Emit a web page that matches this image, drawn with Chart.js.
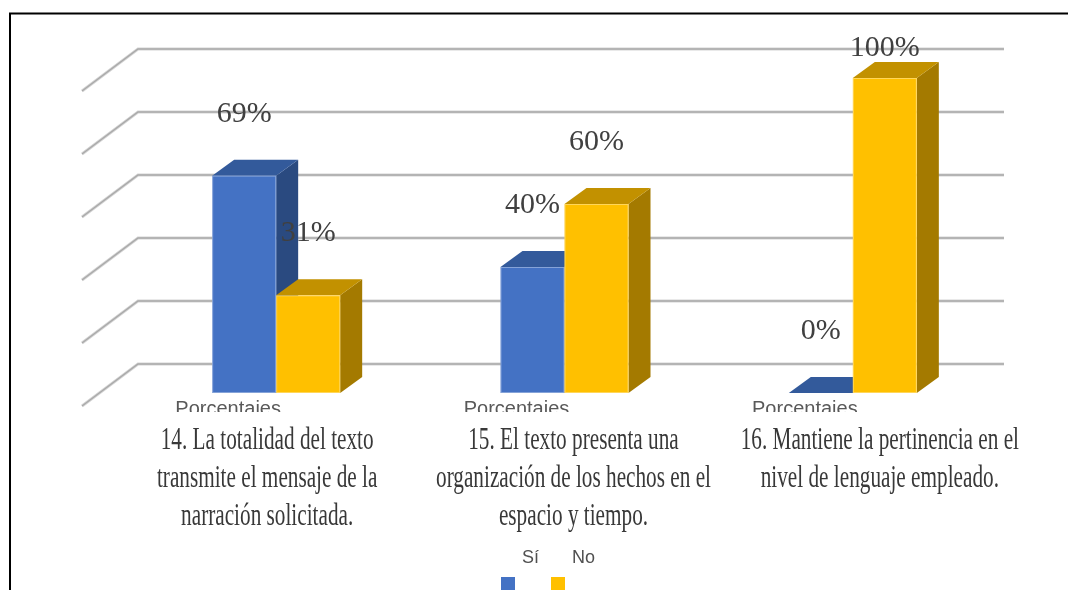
<!DOCTYPE html>
<html>
<head>
<meta charset="utf-8">
<script src="https://cdn.jsdelivr.net/npm/chart.js@4.4.1/dist/chart.umd.min.js"></script>
<style>
  body { margin: 0; background: #fff; }
  #wrap { width: 1068px; height: 590px; }
</style>
</head>
<body>
<div id="wrap"><canvas id="myChart" width="1068" height="590"></canvas></div>
<script>
// data
var categories = ['Porcentajes', 'Porcentajes', 'Porcentajes'];
var questions = [
  ['14. La totalidad del texto', 'transmite el mensaje de la', 'narración solicitada.'],
  ['15. El texto presenta una', 'organización de los hechos en el', 'espacio y tiempo.'],
  ['16. Mantiene la pertinencia en el', 'nivel de lenguaje empleado.']
];
var siValues = [69, 40, 0];
var noValues = [31, 60, 100];
var gridValues = [0, 20, 40, 60, 80, 100];

// face colours for the fake 3d boxes
var faces = [
  { front: '#4472C4', top: '#335A9B', side: '#2A4A80' },
  { front: '#FFC000', top: '#C29100', side: '#A47A00' }
];

var DX = 22, DY = 16;          // bar depth
var WALL_DX = 6, WALL_DY = 29; // back wall offset from the front faces

var box3d = {
  id: 'box3d',
  beforeDatasetsDraw: function(chart) {
    var ctx = chart.ctx, a = chart.chartArea, y = chart.scales.y;
    ctx.save();
    gridValues.forEach(function(v) {
      var py = y.getPixelForValue(v) - WALL_DY;
      var x0 = a.left + WALL_DX, x1 = a.right + 7;
      ctx.beginPath();
      ctx.moveTo(x0 - 56, py + 42);
      ctx.lineTo(x0, py);
      ctx.lineTo(x1, py);
      ctx.lineWidth = 3;
      ctx.strokeStyle = '#D4D4D4';
      ctx.stroke();
      ctx.lineWidth = 1.3;
      ctx.strokeStyle = '#A9A9A9';
      ctx.stroke();
    });
    ctx.restore();

    // boxes, first dataset first so the second one hides its side
    chart.data.datasets.forEach(function(ds, i) {
      var meta = chart.getDatasetMeta(i);
      meta.data.forEach(function(bar) {
        var l = bar.x - bar.width / 2, r = bar.x + bar.width / 2;
        var t = bar.y, b = bar.base;
        var c = faces[i];
        ctx.fillStyle = c.side;
        ctx.beginPath();
        ctx.moveTo(r, t); ctx.lineTo(r + DX, t - DY);
        ctx.lineTo(r + DX, b - DY); ctx.lineTo(r, b); ctx.closePath();
        ctx.fill();
        ctx.fillStyle = c.top;
        ctx.beginPath();
        ctx.moveTo(l, t); ctx.lineTo(l + DX, t - DY);
        ctx.lineTo(r + DX, t - DY); ctx.lineTo(r, t); ctx.closePath();
        ctx.fill();
        if (b - t > 0.5) {
          ctx.fillStyle = c.front;
          ctx.fillRect(l, t, r - l, b - t);
          ctx.strokeStyle = 'rgba(255,255,255,0.35)';
          ctx.lineWidth = 1;
          ctx.strokeRect(l + 0.5, t + 0.5, r - l - 1, b - t - 1);
        }
      });
    });
    return false;
  },
  afterDraw: function(chart) {
    var ctx = chart.ctx, xs = chart.scales.x;
    ctx.save();

    // value labels
    ctx.fillStyle = '#404040';
    ctx.font = '30px "Liberation Serif", "Times New Roman", serif';
    ctx.textAlign = 'center';
    ctx.textBaseline = 'middle';
    chart.data.datasets.forEach(function(ds, i) {
      chart.getDatasetMeta(i).data.forEach(function(bar, j) {
        var ly = Math.max(bar.y - 62, 48);
        ctx.fillText(ds.data[j] + '%', bar.x, ly);
      });
    });

    // question texts, pasted over the tick labels
    ctx.font = '31px "Liberation Serif", "Times New Roman", serif';
    questions.forEach(function(lines, j) {
      var cx = xs.getPixelForValue(j) - 9 + 18 * j;
      ctx.fillStyle = '#ffffff';
      ctx.fillRect(cx - 140, 412, 280, 38 * lines.length + 8);
      ctx.fillStyle = '#383838';
      lines.forEach(function(line, k) {
        ctx.save();
        ctx.translate(cx, 441 + 38 * k);
        ctx.scale(0.685, 1);
        ctx.fillText(line, 0, 0);
        ctx.restore();
      });
    });

    // legend: text above the colour squares
    ctx.font = '18px "Liberation Sans", Arial, sans-serif';
    ctx.textAlign = 'left';
    var names = chart.data.datasets.map(function(d) { return d.label; });
    var tx = [522, 572];
    names.forEach(function(n, i) {
      ctx.fillStyle = '#505050';
      ctx.fillText(n, tx[i], 558);
      ctx.fillStyle = faces[i].front;
      ctx.fillRect(tx[i] - 21, 577, 14, 14);
    });

    // frame
    ctx.strokeStyle = '#000';
    ctx.lineWidth = 2;
    ctx.beginPath();
    ctx.moveTo(10, 700); ctx.lineTo(10, 13.5); ctx.lineTo(1100, 13.5);
    ctx.stroke();
    ctx.restore();
  }
};

var ctx = document.getElementById('myChart').getContext('2d');
var myChart = new Chart(ctx, {
  type: 'bar',
  data: {
    labels: categories,
    datasets: [
      { label: 'Sí', data: siValues, backgroundColor: faces[0].front },
      { label: 'No', data: noValues, backgroundColor: faces[1].front }
    ]
  },
  options: {
    responsive: false,
    animation: false,
    layout: { padding: { left: 132, right: 71, top: 78, bottom: 167 } },
    datasets: { bar: { barPercentage: 1, categoryPercentage: 0.444 } },
    plugins: { legend: { display: false }, tooltip: { enabled: false } },
    scales: {
      x: {
        grid: { display: false, drawTicks: false },
        border: { display: false },
        ticks: {
          labelOffset: -48,
          padding: 4,
          color: '#595959',
          font: { family: '"Liberation Sans", Arial, sans-serif', size: 20 }
        },
        afterFit: function(scale) { scale.height = 30; }
      },
      y: { display: false, min: 0, max: 100 }
    }
  },
  plugins: [box3d]
});
</script>
</body>
</html>
